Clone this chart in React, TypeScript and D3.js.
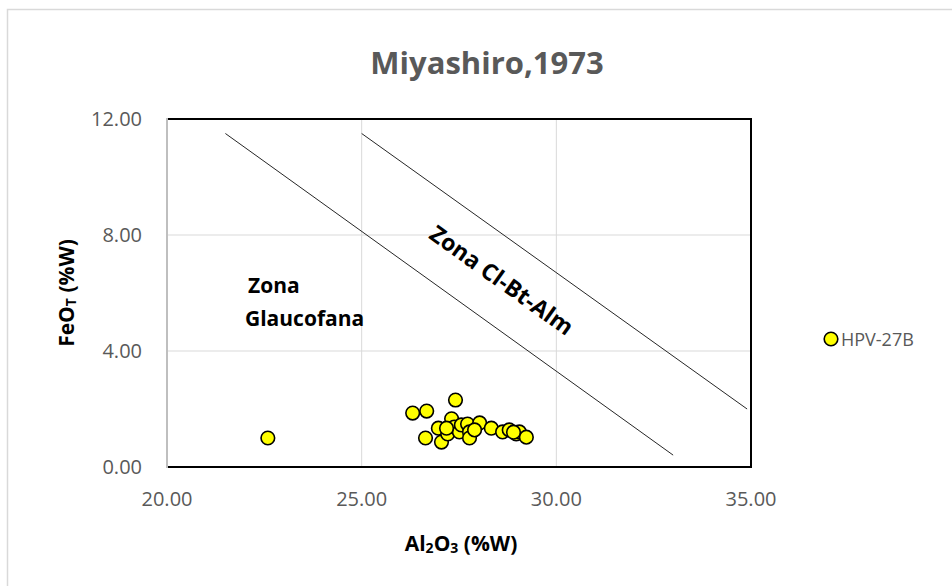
import * as d3 from 'd3';

const W = 952;
const H = 586;

// HPV-27B analyses: Al2O3 (%W) vs FeOT (%W)
const al2o3 = [
  22.59, 26.31, 26.67, 27.41, 27.31, 26.97, 26.64, 27.05, 27.21, 27.38, 27.51, 27.56, 27.72,
  27.77, 27.77, 28.03, 28.33, 28.62, 28.79, 28.97, 29.05, 29.23, 27.18, 27.9, 28.9,
];
const feot = [
  1.0, 1.86, 1.93, 2.31, 1.66, 1.34, 1.0, 0.86, 1.14, 1.38, 1.21, 1.45, 1.48,
  1.21, 1.0, 1.52, 1.34, 1.21, 1.28, 1.14, 1.21, 1.03, 1.34, 1.28, 1.2,
];

// Miyashiro (1973) zone boundaries
const glaucLine: [number, number][] = [[21.5, 11.5], [33.0, 0.41]];
const clBtLine: [number, number][] = [[25.0, 11.5], [34.9, 2.0]];

const xTicks = [20, 25, 30, 35];
const yTicks = [0, 4, 8, 12];

const font = "'Open Sans', sans-serif";
const grey = '#595959';

export default function App() {
  const x = d3.scaleLinear().domain([20, 35]).range([167, 751]);
  const y = d3.scaleLinear().domain([0, 12]).range([467, 119]);
  const line = d3.line<[number, number]>().x(d => x(d[0])).y(d => y(d[1]));

  const points = al2o3.map((v, i) => ({ x: v, y: feot[i] }));

  // angle of the Cl-Bt-Alm boundary in screen space
  const [p0, p1] = clBtLine;
  const ang = (Math.atan2(y(p1[1]) - y(p0[1]), x(p1[0]) - x(p0[0])) * 180) / Math.PI;

  return (
    <div style={{ position: 'absolute', left: 0, top: 0 }}>
      <svg width={W} height={H} style={{ display: 'block', background: '#fff' }}>
        <rect x={7.5} y={9.5} width={W} height={H} fill="#fff" stroke="#d9d9d9" strokeWidth={1.5} />

        <text x={487} y={74} textAnchor="middle" fontFamily={font} fontWeight="bold" fontSize={31} fill={grey}>
          Miyashiro,1973
        </text>

        {/* gridlines */}
        {xTicks.slice(1, -1).map(t => (
          <line key={'gx' + t} x1={x(t)} x2={x(t)} y1={y(12)} y2={y(0)} stroke="#d9d9d9" strokeWidth={1} />
        ))}
        {yTicks.slice(1, -1).map(t => (
          <line key={'gy' + t} x1={x(20)} x2={x(35)} y1={y(t)} y2={y(t)} stroke="#d9d9d9" strokeWidth={1} />
        ))}

        {/* plot frame */}
        <rect x={x(20)} y={y(12)} width={x(35) - x(20)} height={y(0) - y(12)} fill="none" stroke="#000" strokeWidth={2} />
        <line x1={x(20)} x2={x(20)} y1={y(12) - 1} y2={y(0) + 1} stroke="#bfbfbf" strokeWidth={2} />

        {/* tick labels */}
        {xTicks.map(t => (
          <text key={'xt' + t} x={x(t)} y={506} textAnchor="middle" fontFamily={font} fontSize={20} fill={grey}>
            {d3.format('.2f')(t)}
          </text>
        ))}
        {yTicks.map(t => (
          <text key={'yt' + t} x={142} y={y(t) + 7} textAnchor="end" fontFamily={font} fontSize={20} fill={grey}>
            {d3.format('.2f')(t)}
          </text>
        ))}

        {/* axis titles */}
        <text x={461} y={551} textAnchor="middle" fontFamily={font} fontWeight="bold" fontSize={21} fill="#000">
          Al<tspan fontSize={14} dy={2}>2</tspan>
          <tspan dy={-2}>O</tspan>
          <tspan fontSize={14} dy={2}>3</tspan>
          <tspan dy={-2}> (%W)</tspan>
        </text>
        <text
          transform="translate(74,293) rotate(-90)"
          textAnchor="middle"
          fontFamily={font}
          fontWeight="bold"
          fontSize={21}
          fill="#000"
        >
          FeO<tspan fontSize={14} dy={2}>T</tspan>
          <tspan dy={-2}> (%W)</tspan>
        </text>

        {/* zone boundaries */}
        <path d={line(glaucLine) || ''} fill="none" stroke="#262626" strokeWidth={1} />
        <path d={line(clBtLine) || ''} fill="none" stroke="#262626" strokeWidth={1} />

        {/* zone labels */}
        <text fontFamily={font} fontWeight="bold" fontSize={21} fill="#000">
          <tspan x={248} y={293}>Zona</tspan>
          <tspan x={245} y={326}>Glaucofana</tspan>
        </text>
        <text
          transform={`translate(497,287) rotate(${ang})`}
          textAnchor="middle"
          fontFamily={font}
          fontWeight="bold"
          fontSize={23}
          fill="#000"
        >
          Zona Cl-Bt-Alm
        </text>

        {/* data */}
        {points.map((p, i) => (
          <circle key={i} cx={x(p.x)} cy={y(p.y)} r={6.8} fill="#ffff00" stroke="#000" strokeWidth={1.6} />
        ))}

        {/* legend */}
        <circle cx={831} cy={339} r={6.8} fill="#ffff00" stroke="#000" strokeWidth={1.6} />
        <text x={841} y={346} fontFamily={font} fontSize={18} fill={grey}>
          HPV-27B
        </text>
      </svg>
    </div>
  );
}
